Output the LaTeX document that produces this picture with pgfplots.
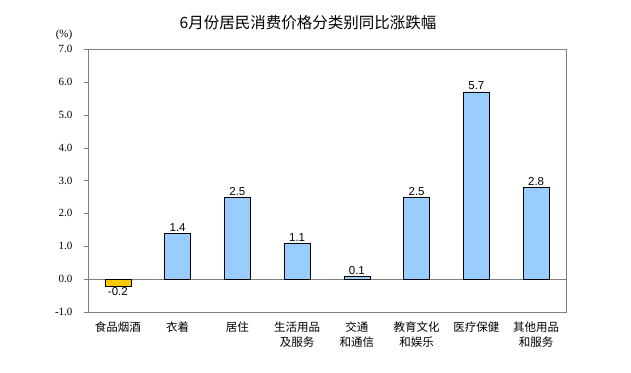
\documentclass[border=0pt]{standalone}
\usepackage{pgfplots}
\pgfplotsset{compat=1.18}
\usepackage{fontspec}
\setmainfont{Liberation Sans}
\newfontfamily\cjk{Noto Sans CJK SC}
\newfontfamily\serifnum{Liberation Serif}
\definecolor{barblue}{HTML}{99CCFF}
\definecolor{baryellow}{HTML}{F8C800}
\begin{document}
\begin{tikzpicture}
\begin{axis}[
  scale only axis, width=478pt, height=263pt,
  at={(0pt,0pt)}, anchor=south west,
  xmin=-0.5, xmax=7.5, ymin=-1, ymax=7,
  ytick={-1,0,...,7},
  xtick={0,...,7},
  xticklabels={食品烟酒, 衣着, 居住, {生活用品\\及服务}, {交通\\和通信}, {教育文化\\和娱乐}, 医疗保健, {其他用品\\和服务}},
  /pgf/number format/fixed, /pgf/number format/fixed zerofill, /pgf/number format/precision=1,
  /pgf/number format/assume math mode=true,
  tick align=outside,
  major tick length=4pt,
  ytick pos=left,
  ytick style={gray},
  xtick style={draw=none},
  axis line style={gray},
  yticklabel style={font=\serifnum\fontsize{11}{12}\selectfont, xshift=-8pt},
  xticklabel style={font=\cjk\fontsize{11.5}{15.5}\selectfont, align=center, anchor=north, yshift=-2pt},
  ybar, bar width=26pt, bar shift=0pt,
  nodes near coords,
  nodes near coords style={font=\fontsize{11.5}{13}\selectfont, black, inner sep=1.5pt},
]
\draw[gray] (axis cs:-0.5,0) -- (axis cs:7.5,0);
\addplot[fill=baryellow, draw=black] coordinates {(0,-0.2)};
\addplot[fill=barblue, draw=black] coordinates {(1,1.4) (2,2.5) (3,1.1) (4,0.1) (5,2.5) (6,5.7) (7,2.8)};
\end{axis}
\node[font=\cjk\fontsize{15.5}{17}\selectfont] at (220pt,289pt) {6月份居民消费价格分类别同比涨跌幅};
\node[font=\serifnum\fontsize{11}{12}\selectfont] at (-24pt,277pt) {(\%)};
\useasboundingbox (-88pt,-60pt) rectangle (543pt,312pt);
\end{tikzpicture}
\end{document}
